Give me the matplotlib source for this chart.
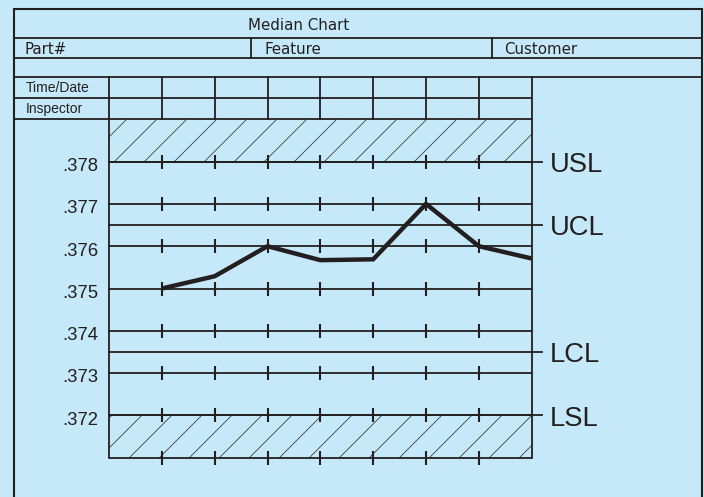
import matplotlib
matplotlib.use("Agg")
import matplotlib.pyplot as plt
import matplotlib.transforms as mtransforms
import numpy as np

# ---- data -------------------------------------------------------------
title = "Median Chart"
header_fields = ["Part#", "Feature", "Customer"]
row_labels = ["Time/Date", "Inspector"]
n_columns = 8
sample_index = [1, 2, 3, 4, 5, 6, 7, 8]
median_values = [0.3750, 0.37529, 0.3760, 0.37567, 0.37569, 0.3770, 0.3760, 0.37571]
grid_values = [0.378, 0.377, 0.376, 0.375, 0.374, 0.373, 0.372]
tick_labels = [".378", ".377", ".376", ".375", ".374", ".373", ".372"]
limit_names = ["USL", "UCL", "LCL", "LSL"]
limit_values = [0.378, 0.3765, 0.3735, 0.372]
y_min, y_max = 0.371, 0.379

# ---- style ------------------------------------------------------------
BG = "#C6E9F9"
INK = "#231F20"
HATCH = "#3C3C3C"
W, H = 704, 497
LW = 1.3

fig = plt.figure(figsize=(W / 100, H / 100), dpi=100, facecolor=BG)

# form layer in pixel coordinates (y grows downward)
form = fig.add_axes([0, 0, 1, 1])
form.set_xlim(0, W)
form.set_ylim(H, 0)
form.axis("off")
form.set_facecolor(BG)

# chart area
cl, cr, ct, cb = 109.0, 531.7, 119.3, 457.7
ax = fig.add_axes([cl / W, (H - cb) / H, (cr - cl) / W, (cb - ct) / H])
ax.set_xlim(0, n_columns)
ax.set_ylim(y_min, y_max)
ax.axis("off")

# ---- form outline -----------------------------------------------------
box_l, box_r, box_t = 14.0, 701.5, 9.0
form.plot([box_l, box_l, box_r, box_r], [H, box_t, box_t, H], color=INK, lw=1.5,
          solid_joinstyle="miter")
for yy in (38.3, 58.3, 77.3):
    form.plot([box_l, box_r], [yy, yy], color=INK, lw=LW)
for xx in (250.7, 492.3):
    form.plot([xx, xx], [38.3, 58.3], color=INK, lw=LW)
for yy in (98.3, ct):
    form.plot([box_l, cr], [yy, yy], color=INK, lw=LW)

# table column lines share the chart's x scale
blend = mtransforms.blended_transform_factory(ax.transData, form.transData)
for xi in range(0, n_columns + 1):
    fig.add_artist(plt.Line2D([xi, xi], [77.3, ct], transform=blend, color=INK, lw=LW))

# header texts
form.text(248.3, 30.0, title, fontsize=10.8, family="DejaVu Sans", color=INK, va="baseline")
for txt, xx in zip(header_fields, (25.0, 265.0, 504.3)):
    form.text(xx, 54.3, txt, fontsize=10.8, family="DejaVu Sans", color=INK, va="baseline")
for txt, yy in zip(row_labels, (91.7, 113.3)):
    form.text(25.5, yy, txt, fontsize=10, family="Liberation Sans", color=INK, va="baseline")

# ---- hatched specification bands --------------------------------------
fig.canvas.draw()
bbox = ax.get_window_extent()
px_x = bbox.width / n_columns          # pixels per column
px_y = bbox.height / (y_max - y_min)   # pixels per unit value
spacing = 30.0 / px_x


def hatch_band(y0, y1, phase_px):
    run = (y1 - y0) * px_y / px_x  # 45 degree run in column units
    starts = np.arange(phase_px / px_x - 2 * spacing - run, n_columns + spacing, spacing)
    for s in starts:
        ax.plot([s, s + run], [y0, y1], color=HATCH, lw=0.6, clip_on=True)


hatch_band(0.378, y_max, 17.7)
hatch_band(y_min, 0.372, 2.7)

# ---- grid lines, ticks, limits ----------------------------------------
ax.plot([0, 0, n_columns, n_columns], [y_max, y_min, y_min, y_max], color=INK, lw=LW,
        clip_on=False, solid_joinstyle="miter")
for gv in grid_values:
    ax.plot([0, n_columns], [gv, gv], color=INK, lw=LW, clip_on=False)
tick_x = list(range(1, n_columns))
for gv in grid_values + [y_min]:
    ax.plot(tick_x, [gv] * len(tick_x), ls="none", marker="|", ms=10.6, mew=1.5,
            color=INK, clip_on=False)

ext = 10.0 / px_x
for name, lv in zip(limit_names, limit_values):
    ax.plot([0, n_columns + ext], [lv, lv], color=INK, lw=LW, clip_on=False)
    ax.annotate(name, (n_columns, lv), xytext=(18.3, -10.3), textcoords="offset pixels",
                fontsize=19.7, family="Liberation Sans", color=INK, va="baseline", ha="left")

for gv, lab in zip(grid_values, tick_labels):
    ax.annotate(lab, (0, gv), xytext=(-10.7, -9.3), textcoords="offset pixels",
                fontsize=13.3, family="Liberation Sans", color=INK, va="baseline", ha="right")

# ---- median trace -----------------------------------------------------
ax.plot(sample_index, median_values, color=INK, lw=3.2, solid_joinstyle="miter",
        solid_capstyle="butt", clip_on=False, zorder=5)

fig.savefig("out.png", dpi=100, facecolor=BG)
